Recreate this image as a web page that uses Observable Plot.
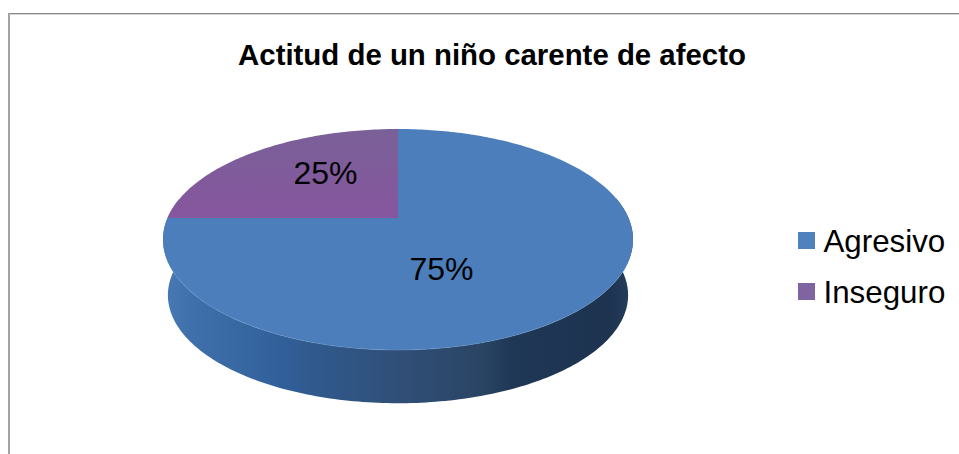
<!DOCTYPE html>
<html>
<head>
<meta charset="utf-8">
<script src="https://cdn.jsdelivr.net/npm/d3@7"></script>
<script src="https://cdn.jsdelivr.net/npm/@observablehq/plot@0.6"></script>
<style>
html,body{margin:0;padding:0;background:#fff;overflow:hidden}
svg{display:block;font-family:"Liberation Sans",Arial,sans-serif}
g[aria-label="line"]{filter:blur(0.45px)}
</style>
</head>
<body>
<div id="chart"></div>
<script>
const title = "Actitud de un niño carente de afecto";
const categories = ["Agresivo", "Inseguro"];
const values = [75, 25];
const labels = ["75%", "25%"];
const colors = ["#4c7ebc", "url(#purpleFace)"];
const legendColors = ["#4f81bd", "#8064a2"];

// Drawing set-up of the tilted disc (perspective foreshortening)
const cx = 397.5, cy = 217.5, a = 230.5, b = 106.3, k = 0.1946;
const depth = 56.5, shrink = 0.98;
const labelX = [441, 325];
const labelY = [269, 173];

function rim(theta, r = 1, dy = 0) {
  // theta is clockwise from 12 o'clock
  const s = -Math.cos(theta) * r, c = Math.sin(theta) * r;
  const w = 1 - k * s;
  return [cx + a * c / w, cy + dy + b * s / w];
}

const arcs = d3.pie().sort(null).value(d => d)(values);
const step = Math.PI / 180;
const pts = [];
arcs.forEach((arc, i) => {
  pts.push({key: categories[i], x: cx, y: cy});
  for (let t = arc.startAngle; t <= arc.endAngle + 1e-9; t += step) {
    const [x, y] = rim(t);
    pts.push({key: categories[i], x, y});
  }
});

// Side wall: front part of the top rim and the matching part of the lower rim
const wall = [];
const wallFrom = Math.PI / 2 - 0.196, wallTo = 3 * Math.PI / 2 + 0.196;
for (let t = wallFrom; t <= wallTo; t += step) {
  const [x, y] = rim(t);
  wall.push({x, y});
}
for (let t = wallTo; t >= wallFrom; t -= step) {
  const [x, y] = rim(t, shrink, depth);
  wall.push({x, y});
}

// Light edge along the front of the face
const edge = [];
for (let t = Math.PI / 2 + 0.4; t <= 3 * Math.PI / 2 - 0.5; t += step) {
  const [x, y] = rim(t);
  edge.push({x, y});
}

const defs = () => {
  const ns = "http://www.w3.org/2000/svg";
  const d = document.createElementNS(ns, "defs");
  d.innerHTML = `
  <linearGradient id="wallGrad" x1="0" x2="1" y1="0" y2="0">
    <stop offset="0" stop-color="#4a7ab5"/>
    <stop offset="0.06" stop-color="#4070ab"/>
    <stop offset="0.14" stop-color="#3a6aa4"/>
    <stop offset="0.24" stop-color="#31609a"/>
    <stop offset="0.35" stop-color="#30588a"/>
    <stop offset="0.5" stop-color="#304f78"/>
    <stop offset="0.68" stop-color="#2a4464"/>
    <stop offset="0.74" stop-color="#1f3856"/>
    <stop offset="0.95" stop-color="#1d3350"/>
    <stop offset="1" stop-color="#263f5e"/>
  </linearGradient>
  <linearGradient id="purpleFace" x1="0" x2="0" y1="0" y2="1">
    <stop offset="0" stop-color="#7a6098"/>
    <stop offset="1" stop-color="#86569e"/>
  </linearGradient>`;
  return d;
};

const chart = Plot.plot({
  width: 959,
  height: 454,
  margin: 0,
  style: {background: "#fff", fontFamily: '"Liberation Sans", Arial, sans-serif'},
  x: {domain: [0, 959], range: [0, 959], axis: null},
  y: {domain: [0, 454], range: [0, 454], axis: null},
  marks: [
    defs,
    // frame
    Plot.ruleY([13], {x1: 8, x2: 959, stroke: "#868686", strokeWidth: 1}),
    Plot.ruleY([14], {x1: 10, x2: 959, stroke: "#d8d8d8", strokeWidth: 1}),
    Plot.ruleX([8.5], {y1: 13, y2: 454, stroke: "#a3a3a3", strokeWidth: 2}),
    // disc
    Plot.line(wall, {x: "x", y: "y", fill: "url(#wallGrad)", stroke: "none", curve: "linear"}),
    Plot.line(pts, {x: "x", y: "y", z: "key", fill: d => colors[categories.indexOf(d.key)], stroke: "none", curve: "linear"}),
    Plot.line(edge, {x: "x", y: "y", stroke: "#6a94c6", strokeWidth: 1, strokeOpacity: 0.55, curve: "linear"}),
    Plot.text(labels, {x: (d, i) => labelX[i], y: (d, i) => labelY[i], text: d => d, fontSize: 32, fill: "#000"}),
    // title
    Plot.text([title], {x: () => 491.5, y: () => 55, text: d => d, fontSize: 29.4, fontWeight: "bold", fill: "#000"}),
    // legend
    Plot.rect(categories, {x1: () => 798, x2: () => 815, y1: (d, i) => 232 + i * 51, y2: (d, i) => 249 + i * 51, fill: (d, i) => legendColors[i]}),
    Plot.text(categories, {x: () => 823, y: (d, i) => 241 + i * 51, text: d => d, textAnchor: "start", fontSize: 31.3, fill: "#000"})
  ]
});
document.getElementById("chart").append(chart);
</script>
</body>
</html>
